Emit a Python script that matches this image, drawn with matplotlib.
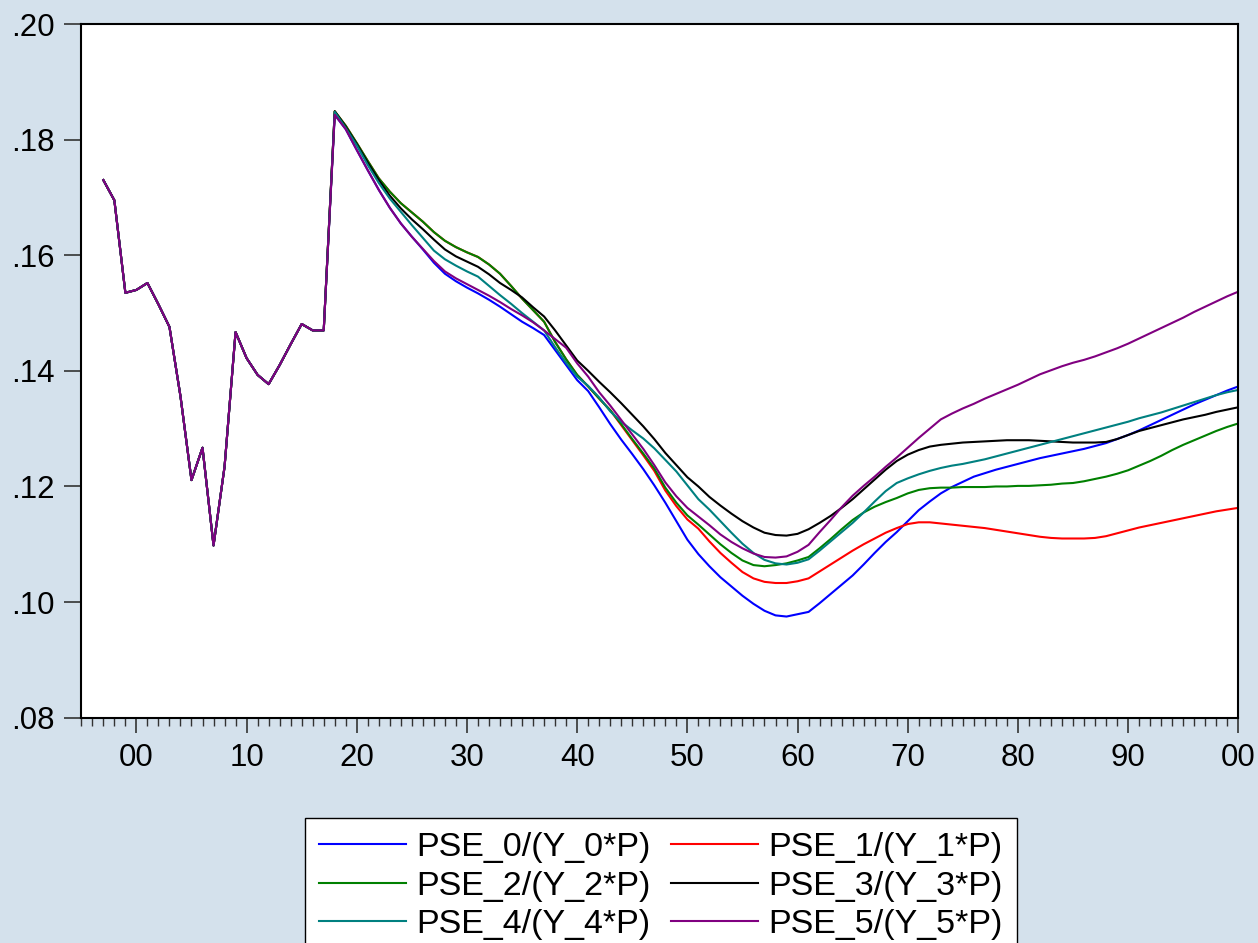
import matplotlib
matplotlib.use("Agg")
import matplotlib.pyplot as plt
from matplotlib.ticker import FixedLocator, FuncFormatter, MultipleLocator

plt.rcParams["font.family"] = ["Liberation Sans", "DejaVu Sans"]

# Common history (identical across all six ratios)
hist_years = list(range(1997, 2018))
hist = [0.1730, 0.1695, 0.1535, 0.1540, 0.1552, 0.1515, 0.1476, 0.1356,
        0.1211, 0.1267, 0.1098, 0.1234, 0.1467, 0.1422, 0.1393, 0.1377,
        0.1410, 0.1446, 0.1481, 0.1470, 0.1470]

# Projections, 2018-2100
proj_years = list(range(2018, 2101))

pse0 = [0.1843, 0.1818, 0.1782, 0.1747, 0.1713, 0.1682, 0.1655, 0.1632, 0.1610, 0.1587,
        0.1568, 0.1555, 0.1544, 0.1534, 0.1523, 0.1511, 0.1498, 0.1485, 0.1474, 0.1462,
        0.1436, 0.1410, 0.1384, 0.1365, 0.1337, 0.1308, 0.1281, 0.1256, 0.1230, 0.1202,
        0.1172, 0.1140, 0.1108, 0.1083, 0.1062, 0.1043, 0.1027, 0.1011, 0.0997, 0.0985,
        0.0977, 0.0975, 0.0979, 0.0983, 0.0998, 0.1014, 0.1030, 0.1046, 0.1065, 0.1085,
        0.1104, 0.1121, 0.1140, 0.1159, 0.1174, 0.1188, 0.1199, 0.1208, 0.1217, 0.1223,
        0.1229, 0.1234, 0.1239, 0.1244, 0.1249, 0.1253, 0.1257, 0.1261, 0.1265, 0.1270,
        0.1275, 0.1282, 0.1289, 0.1297, 0.1306, 0.1315, 0.1324, 0.1333, 0.1342, 0.1350,
        0.1358, 0.1366, 0.1373]

pse1 = [0.1849, 0.1824, 0.1794, 0.1763, 0.1733, 0.1710, 0.1690, 0.1674, 0.1658, 0.1640,
        0.1625, 0.1614, 0.1605, 0.1597, 0.1584, 0.1568, 0.1547, 0.1525, 0.1505, 0.1485,
        0.1450, 0.1420, 0.1393, 0.1373, 0.1352, 0.1332, 0.1306, 0.1280, 0.1254, 0.1227,
        0.1193, 0.1166, 0.1143, 0.1127, 0.1105, 0.1085, 0.1068, 0.1052, 0.1041, 0.1035,
        0.1033, 0.1033, 0.1036, 0.1041, 0.1053, 0.1065, 0.1077, 0.1089, 0.1100, 0.1110,
        0.1120, 0.1128, 0.1135, 0.1138, 0.1138, 0.1136, 0.1134, 0.1132, 0.1130, 0.1128,
        0.1125, 0.1122, 0.1119, 0.1116, 0.1113, 0.1111, 0.1110, 0.1110, 0.1110, 0.1111,
        0.1114, 0.1119, 0.1124, 0.1129, 0.1133, 0.1137, 0.1141, 0.1145, 0.1149, 0.1153,
        0.1157, 0.1160, 0.1163]

pse2 = [0.1849, 0.1824, 0.1794, 0.1763, 0.1733, 0.1710, 0.1690, 0.1674, 0.1658, 0.1640,
        0.1625, 0.1614, 0.1605, 0.1597, 0.1584, 0.1568, 0.1547, 0.1525, 0.1505, 0.1485,
        0.1450, 0.1420, 0.1393, 0.1373, 0.1352, 0.1332, 0.1308, 0.1282, 0.1257, 0.1231,
        0.1198, 0.1172, 0.1150, 0.1134, 0.1117, 0.1100, 0.1085, 0.1072, 0.1064, 0.1062,
        0.1064, 0.1067, 0.1072, 0.1078, 0.1093, 0.1109, 0.1126, 0.1142, 0.1155, 0.1165,
        0.1173, 0.1180, 0.1188, 0.1194, 0.1197, 0.1198, 0.1198, 0.1199, 0.1199, 0.1199,
        0.1200, 0.1200, 0.1201, 0.1201, 0.1202, 0.1203, 0.1205, 0.1206, 0.1209, 0.1213,
        0.1217, 0.1222, 0.1228, 0.1236, 0.1244, 0.1253, 0.1263, 0.1272, 0.1280, 0.1288,
        0.1296, 0.1303, 0.1309]

pse3 = [0.1849, 0.1822, 0.1792, 0.1760, 0.1730, 0.1703, 0.1681, 0.1662, 0.1645, 0.1627,
        0.1610, 0.1598, 0.1589, 0.1580, 0.1567, 0.1552, 0.1540, 0.1527, 0.1510, 0.1494,
        0.1470, 0.1444, 0.1418, 0.1400, 0.1381, 0.1363, 0.1344, 0.1324, 0.1304, 0.1282,
        0.1258, 0.1237, 0.1216, 0.1200, 0.1182, 0.1167, 0.1153, 0.1140, 0.1129, 0.1120,
        0.1116, 0.1115, 0.1118, 0.1126, 0.1137, 0.1149, 0.1163, 0.1178, 0.1195, 0.1212,
        0.1229, 0.1244, 0.1255, 0.1263, 0.1269, 0.1272, 0.1274, 0.1276, 0.1277, 0.1278,
        0.1279, 0.1280, 0.1280, 0.1280, 0.1279, 0.1278, 0.1277, 0.1276, 0.1276, 0.1276,
        0.1277, 0.1282, 0.1289, 0.1296, 0.1301, 0.1306, 0.1311, 0.1316, 0.1320, 0.1324,
        0.1329, 0.1333, 0.1337]

pse4 = [0.1848, 0.1820, 0.1790, 0.1756, 0.1725, 0.1698, 0.1675, 0.1652, 0.1630, 0.1608,
        0.1593, 0.1582, 0.1572, 0.1563, 0.1547, 0.1531, 0.1516, 0.1500, 0.1485, 0.1470,
        0.1441, 0.1414, 0.1390, 0.1374, 0.1354, 0.1330, 0.1312, 0.1297, 0.1283, 0.1266,
        0.1246, 0.1226, 0.1202, 0.1178, 0.1160, 0.1140, 0.1120, 0.1101, 0.1085, 0.1073,
        0.1067, 0.1065, 0.1068, 0.1074, 0.1089, 0.1105, 0.1121, 0.1137, 0.1155, 0.1174,
        0.1192, 0.1206, 0.1214, 0.1221, 0.1227, 0.1232, 0.1236, 0.1239, 0.1243, 0.1247,
        0.1252, 0.1257, 0.1262, 0.1267, 0.1272, 0.1277, 0.1282, 0.1287, 0.1292, 0.1297,
        0.1302, 0.1307, 0.1312, 0.1318, 0.1323, 0.1328, 0.1334, 0.1340, 0.1346, 0.1352,
        0.1358, 0.1363, 0.1367]

pse5 = [0.1843, 0.1818, 0.1782, 0.1747, 0.1713, 0.1682, 0.1655, 0.1632, 0.1611, 0.1590,
        0.1572, 0.1560, 0.1550, 0.1540, 0.1530, 0.1519, 0.1507, 0.1496, 0.1484, 0.1470,
        0.1455, 0.1440, 0.1413, 0.1390, 0.1363, 0.1340, 0.1315, 0.1290, 0.1265, 0.1237,
        0.1207, 0.1183, 0.1163, 0.1148, 0.1133, 0.1117, 0.1104, 0.1093, 0.1084, 0.1078,
        0.1077, 0.1079, 0.1087, 0.1099, 0.1121, 0.1142, 0.1164, 0.1184, 0.1201, 0.1217,
        0.1234, 0.1250, 0.1267, 0.1284, 0.1300, 0.1316, 0.1326, 0.1335, 0.1343, 0.1352,
        0.1360, 0.1368, 0.1376, 0.1385, 0.1394, 0.1401, 0.1408, 0.1414, 0.1419, 0.1425,
        0.1432, 0.1439, 0.1447, 0.1456, 0.1465, 0.1474, 0.1483, 0.1492, 0.1502, 0.1511,
        0.1520, 0.1529, 0.1537]

labels = ["PSE_0/(Y_0*P)", "PSE_1/(Y_1*P)", "PSE_2/(Y_2*P)",
          "PSE_3/(Y_3*P)", "PSE_4/(Y_4*P)", "PSE_5/(Y_5*P)"]
colors = ["#0000ff", "#ff0000", "#008000", "#000000", "#008080", "#800080"]
series = [pse0, pse1, pse2, pse3, pse4, pse5]

BG = "#d4e1ec"
W, H = 1258, 943
fig = plt.figure(figsize=(W / 100, H / 100), dpi=100, facecolor=BG)
ax = fig.add_axes([81.3 / W, 1 - 717.7 / H, (1238.3 - 81.3) / W, (717.7 - 24) / H])
ax.set_facecolor("white")

years = hist_years + proj_years
lines = []
for vals, col, lab in zip(series, colors, labels):
    ln, = ax.plot(years, hist + vals, color=col, lw=1.5, label=lab,
                  solid_joinstyle="round")
    lines.append(ln)

ax.set_xlim(1995, 2100)
ax.set_ylim(0.08, 0.20)

ax.xaxis.set_major_locator(FixedLocator(list(range(2000, 2101, 10))))
ax.xaxis.set_minor_locator(MultipleLocator(1))
ax.xaxis.set_major_formatter(FuncFormatter(lambda v, p: f"{int(round(v)) % 100:02d}"))
ax.yaxis.set_major_locator(FixedLocator([0.08, 0.10, 0.12, 0.14, 0.16, 0.18, 0.20]))
ax.yaxis.set_major_formatter(FuncFormatter(lambda v, p: f"{v:.2f}".lstrip("0")))

ax.tick_params(axis="x", which="major", direction="out", length=11, width=1.2,
               color="#333333", labelsize=22.5, pad=7)
ax.tick_params(axis="x", which="minor", direction="out", length=6, width=1.0,
               color="#333333")
ax.tick_params(axis="y", which="major", direction="out", length=12, width=1.2,
               color="#333333", labelsize=22.5, pad=7)
ax.tick_params(top=False, right=False)

for s in ax.spines.values():
    s.set_color("black")
    s.set_linewidth(1.5)

# Legend filled row by row: (0, 1), (2, 3), (4, 5)
order = [0, 2, 4, 1, 3, 5]
leg = fig.legend(handles=[lines[i] for i in order], labels=[labels[i] for i in order],
                 ncol=2, loc="upper left", bbox_to_anchor=(305 / W, 1 - 818 / H),
                 borderaxespad=0, frameon=True, fancybox=False,
                 fontsize=24.5, handlelength=2.55, handletextpad=0.3,
                 columnspacing=0.6, labelspacing=0.22, borderpad=0.42)
leg.get_frame().set_edgecolor("black")
leg.get_frame().set_linewidth(1.0)
leg.get_frame().set_facecolor("white")
leg.get_frame().set_alpha(1.0)

fig.savefig("out.png", dpi=100, facecolor=BG)
